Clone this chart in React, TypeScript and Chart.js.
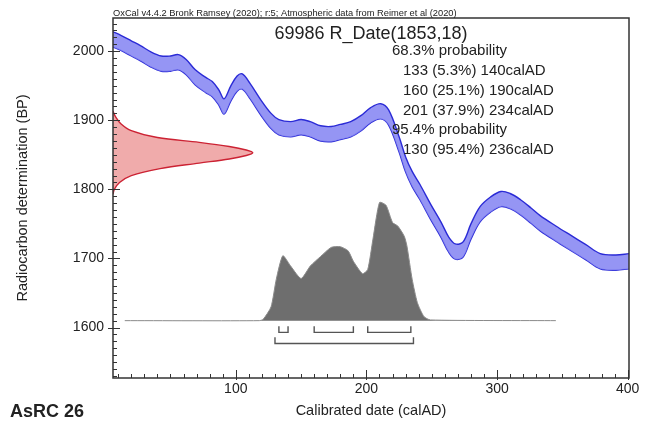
import React, { useEffect, useRef } from "react";
import { Chart, registerables } from "chart.js";

Chart.register(...registerables);

// Calibration curve (IntCal20 band)
const curveAD = [6, 12, 20, 27, 35, 43, 50, 56, 62, 69, 77, 82, 87, 91, 96, 101, 105, 111, 119, 127, 133, 142, 150, 157, 165, 173, 180, 188, 196, 203, 211, 217, 225, 230, 235, 241, 249, 257, 263, 268, 274, 280, 287, 295, 303, 310, 318, 326, 333, 345, 356, 368, 379, 391, 401];
const curveUpperBP = [2028, 2023, 2015, 2008, 1999, 1993, 1993, 1995, 1988, 1973, 1962, 1956, 1944, 1931, 1949, 1964, 1967, 1953, 1930, 1910, 1901, 1898, 1901, 1898, 1892, 1891, 1894, 1898, 1907, 1918, 1924, 1915, 1876, 1847, 1826, 1807, 1779, 1753, 1731, 1721, 1724, 1750, 1775, 1789, 1797, 1794, 1785, 1773, 1762, 1747, 1734, 1720, 1707, 1705, 1707];
const curveLowerBP = [2006, 2001, 1993, 1986, 1977, 1971, 1971, 1973, 1966, 1951, 1940, 1934, 1922, 1909, 1927, 1942, 1945, 1931, 1908, 1888, 1879, 1876, 1879, 1876, 1870, 1869, 1872, 1876, 1885, 1896, 1902, 1893, 1854, 1825, 1804, 1785, 1757, 1731, 1709, 1699, 1702, 1728, 1753, 1767, 1775, 1772, 1763, 1751, 1740, 1725, 1712, 1698, 1685, 1683, 1685];

const measBP = [1913, 1905, 1895, 1885, 1875, 1868, 1862, 1857, 1853, 1849, 1844, 1838, 1830, 1820, 1810, 1800, 1793];
const measAD = [6, 8, 12, 20, 40, 72, 95, 108, 113, 108, 95, 72, 42, 20, 11, 7, 6];

// Calibrated distribution (grey)
const distAD = [15, 118, 121, 127, 131, 136, 142, 150, 157, 165, 173, 180, 186, 190, 197, 201, 205, 210, 215, 220, 224, 229, 231, 235, 239, 244, 249, 345];
const distBP = [1610, 1610, 1612, 1630, 1670, 1704, 1689, 1671, 1689, 1703, 1716, 1717, 1711, 1696, 1678, 1684, 1728, 1781, 1777, 1752, 1747, 1732, 1718, 1670, 1636, 1616, 1611, 1610];
const distBase = 1610;

// Ranges
const range68 = [[133, 140], [160, 190], [201, 234]];
const range95 = [[130, 236]];

const xTicks = [100, 200, 300, 400];
const yTicks = [1600, 1700, 1800, 1900, 2000];

const headerText = "OxCal v4.4.2 Bronk Ramsey (2020); r:5; Atmospheric data from Reimer et al (2020)";
const titleText = "69986 R_Date(1853,18)";
const probLines = [
  { text: "68.3% probability", indent: 0 },
  { text: "133 (5.3%) 140calAD", indent: 1 },
  { text: "160 (25.1%) 190calAD", indent: 1 },
  { text: "201 (37.9%) 234calAD", indent: 1 },
  { text: "95.4% probability", indent: 0 },
  { text: "130 (95.4%) 236calAD", indent: 1 },
];
const sampleLabel = "AsRC 26";

const FONT = "'Liberation Sans', Arial, Helvetica, sans-serif";

function bracket(a: number, b: number, top: number, bottom: number) {
  return [
    { x: a, y: top },
    { x: a, y: bottom },
    { x: b, y: bottom },
    { x: b, y: top },
  ];
}

const decorPlugin = {
  id: "decor",
  afterDatasetsDraw(chart: any) {
    const { ctx, chartArea, scales } = chart;
    const { left, right, top, bottom } = chartArea;
    const xs = scales.x;
    const ys = scales.y;
    ctx.save();
    ctx.strokeStyle = "#333";
    ctx.lineWidth = 1;
    ctx.beginPath();
    for (let v = 10; v <= 400; v += 10) {
      const px = Math.round(xs.getPixelForValue(v)) + 0.5;
      const major = v % 100 === 0;
      ctx.moveTo(px, bottom + (major ? 2 : 0));
      ctx.lineTo(px, bottom - (major ? 8 : 4));
    }
    for (let v = 1530; v <= 2040; v += 10) {
      const py = Math.round(ys.getPixelForValue(v)) + 0.5;
      const major = v % 100 === 0;
      ctx.moveTo(left - (major ? 5 : 0), py);
      ctx.lineTo(left + (major ? 7 : 4), py);
    }
    ctx.stroke();
    ctx.strokeStyle = "#333";
    ctx.lineWidth = 1.5;
    ctx.strokeRect(left, top, right - left, bottom - top);
    ctx.restore();
  },
  afterDraw(chart: any) {
    const { ctx, chartArea } = chart;
    const { left, right, top } = chartArea;
    ctx.save();
    ctx.fillStyle = "#222";
    ctx.textBaseline = "alphabetic";
    ctx.textAlign = "left";
    ctx.font = `9.3px ${FONT}`;
    ctx.fillText(headerText, left, top - 2);
    ctx.font = `18px ${FONT}`;
    ctx.textAlign = "center";
    ctx.textBaseline = "middle";
    ctx.fillText(titleText, (left + right) / 2, 34);
    ctx.font = `15px ${FONT}`;
    ctx.textAlign = "left";
    probLines.forEach((l, i) => {
      ctx.fillText(l.text, 392 + l.indent * 11, 51 + i * 19.8);
    });
    ctx.font = `bold 18px ${FONT}`;
    ctx.fillText(sampleLabel, 10, 412);
    ctx.restore();
  },
};

export default function App() {
  const ref = useRef<HTMLCanvasElement | null>(null);
  useEffect(() => {
    if (!ref.current) return;
    const bracketSets: any[] = [];
    range68.forEach(([a, b]) =>
      bracketSets.push({
        data: bracket(a, b, 1602, 1593),
        borderColor: "#555",
        borderWidth: 1.4,
        pointRadius: 0,
        fill: false,
        tension: 0,
      })
    );
    range95.forEach(([a, b]) =>
      bracketSets.push({
        data: bracket(a, b, 1586, 1577),
        borderColor: "#555",
        borderWidth: 1.4,
        pointRadius: 0,
        fill: false,
        tension: 0,
      })
    );
    const chart = new Chart(ref.current, {
      type: "line",
      data: {
        datasets: [
          {
            data: curveAD.map((x, i) => ({ x, y: curveUpperBP[i] })),
            borderColor: "#2b2bd6",
            borderWidth: 1.4,
            backgroundColor: "rgba(130,130,242,0.85)",
            fill: "+1",
            pointRadius: 0,
            tension: 0.35,
          },
          {
            data: curveAD.map((x, i) => ({ x, y: curveLowerBP[i] })),
            borderColor: "#2b2bd6",
            borderWidth: 1.4,
            pointRadius: 0,
            fill: false,
            tension: 0.35,
          },
          {
            data: distAD.map((x, i) => ({ x, y: distBP[i] })),
            borderColor: "#8a8a8a",
            borderWidth: 1,
            backgroundColor: "#6e6e6e",
            fill: { value: distBase },
            pointRadius: 0,
            tension: 0.2,
          },
          {
            data: measAD.map((x, i) => ({ x, y: measBP[i] })),
            borderColor: "#cc2233",
            borderWidth: 1.4,
            backgroundColor: "rgba(236,150,150,0.8)",
            fill: "shape",
            pointRadius: 0,
            tension: 0.35,
          },
          ...bracketSets,
        ],
      },
      options: {
        animation: false,
        responsive: false,
        maintainAspectRatio: false,
        layout: { padding: { top: 18, right: 23, bottom: 0, left: 0 } },
        plugins: { legend: { display: false }, tooltip: { enabled: false } },
        scales: {
          x: {
            type: "linear",
            min: 6,
            max: 401,
            afterBuildTicks: (s: any) => {
              s.ticks = xTicks.map((v) => ({ value: v }));
            },
            afterFit: (s: any) => {
              s.height = 54;
            },
            grid: { display: false, drawTicks: false, tickLength: 0 },
            border: { display: false },
            ticks: {
              autoSkip: false,
              maxRotation: 0,
              padding: 3,
              color: "#222",
              font: { family: FONT, size: 14 },
              callback: (v: any) => String(v),
            },
            title: {
              display: true,
              text: "Calibrated date (calAD)",
              color: "#222",
              font: { family: FONT, size: 14.5 },
              padding: { top: 0, bottom: 12 },
            },
          },
          y: {
            type: "linear",
            min: 1527,
            max: 2048,
            afterBuildTicks: (s: any) => {
              s.ticks = yTicks.map((v) => ({ value: v }));
            },
            afterFit: (s: any) => {
              s.width = 113;
            },
            grid: { display: false, drawTicks: false, tickLength: 0 },
            border: { display: false },
            ticks: {
              autoSkip: false,
              padding: 9,
              color: "#222",
              font: { family: FONT, size: 14 },
              callback: (v: any) => String(v),
            },
            title: {
              display: true,
              text: "Radiocarbon determination (BP)",
              color: "#222",
              font: { family: FONT, size: 14.5 },
              padding: { top: 14, bottom: 0 },
            },
          },
        },
      },
      plugins: [decorPlugin],
    } as any);
    return () => chart.destroy();
  }, []);
  return (
    <div style={{ position: "fixed", left: 0, top: 0, width: 652, height: 432, background: "#fff" }}>
      <canvas ref={ref} width={652} height={432} style={{ width: 652, height: 432 }} />
    </div>
  );
}
